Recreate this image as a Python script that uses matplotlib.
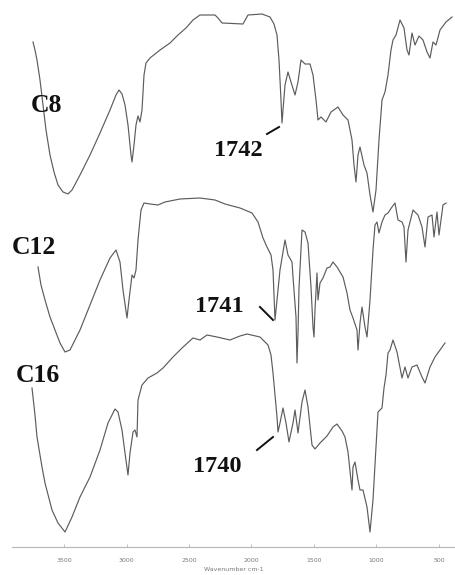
"""FTIR spectra of the C8 / C12 / C16 esters, stacked with offsets."""

import matplotlib
matplotlib.use("Agg")
import matplotlib.pyplot as plt

# ---- data: wavenumber (cm-1) and offset intensity (a.u.) -------------------
c8_wn = [3748, 3732, 3716, 3692, 3668, 3644, 3612, 3580, 3548, 3508,
         3468, 3436, 3372, 3292, 3212, 3132, 3084, 3060, 3036, 3012,
         2988, 2964, 2956, 2940, 2924, 2908, 2892, 2876, 2860, 2844,
         2812, 2732, 2652, 2588, 2524, 2468, 2412, 2292, 2268, 2236,
         2068, 2028, 1916, 1852, 1820, 1796, 1780, 1772, 1764, 1756,
         1748, 1732, 1708, 1684, 1652, 1628, 1604, 1572, 1532, 1508,
         1484, 1468, 1444, 1404, 1364, 1308, 1268, 1228, 1196, 1180,
         1164, 1148, 1132, 1100, 1076, 1052, 1028, 1004, 980, 956,
         932, 908, 884, 868, 844, 812, 780, 756, 740, 716,
         692, 660, 628, 596, 572, 548, 524, 492, 444, 396]
c8_int = [505, 497, 487, 467, 442, 417, 392, 375, 362, 355,
          353, 357, 372, 392, 414, 437, 452, 457, 453, 442,
          422, 392, 385, 402, 422, 431, 425, 437, 472, 484,
          489, 497, 504, 512, 519, 527, 532, 532, 529, 524,
          523, 532, 533, 530, 523, 512, 487, 467, 447, 424,
          437, 462, 475, 465, 452, 465, 487, 483, 483, 472,
          447, 427, 430, 425, 435, 440, 432, 427, 407, 382,
          365, 392, 400, 382, 374, 352, 335, 357, 407, 447,
          455, 472, 497, 507, 512, 527, 519, 497, 492, 514,
          502, 511, 507, 495, 489, 505, 502, 517, 525, 530]

c12_wn = [3708, 3684, 3652, 3612, 3572, 3532, 3492, 3452, 3372, 3292,
          3212, 3132, 3084, 3052, 3028, 2996, 2980, 2956, 2940, 2924,
          2908, 2884, 2860, 2812, 2748, 2692, 2572, 2412, 2292, 2212,
          2092, 1996, 1948, 1908, 1876, 1844, 1828, 1812, 1788, 1772,
          1732, 1708, 1676, 1668, 1644, 1636, 1628, 1620, 1596, 1572,
          1548, 1524, 1508, 1500, 1492, 1476, 1468, 1452, 1428, 1396,
          1372, 1348, 1316, 1292, 1268, 1236, 1212, 1188, 1156, 1148,
          1132, 1116, 1092, 1076, 1052, 1028, 1012, 996, 980, 956,
          932, 908, 876, 852, 828, 796, 780, 764, 748, 708,
          668, 636, 612, 588, 556, 540, 516, 500, 468, 444]
c12_int = [280, 262, 247, 230, 217, 204, 195, 197, 217, 242,
           267, 289, 297, 285, 257, 229, 247, 272, 269, 277,
           307, 337, 344, 343, 342, 345, 348, 349, 347, 343,
           339, 334, 325, 309, 300, 292, 277, 227, 257, 277,
           307, 292, 285, 270, 230, 184, 214, 259, 317, 315,
           304, 260, 220, 210, 237, 274, 247, 264, 269, 279,
           280, 285, 280, 275, 270, 254, 237, 229, 217, 197,
           224, 240, 220, 210, 247, 297, 322, 325, 314, 325,
           332, 334, 340, 344, 327, 325, 320, 285, 317, 337,
           332, 320, 300, 330, 332, 310, 335, 312, 342, 344]

c16_wn = [3756, 3732, 3716, 3692, 3676, 3652, 3596, 3548, 3492, 3436,
          3372, 3292, 3212, 3148, 3092, 3068, 3036, 3012, 2988, 2972,
          2948, 2932, 2916, 2908, 2876, 2828, 2756, 2708, 2628, 2556,
          2468, 2412, 2356, 2276, 2172, 2092, 2036, 1932, 1868, 1844,
          1828, 1812, 1796, 1788, 1772, 1748, 1724, 1700, 1668, 1652,
          1636, 1628, 1596, 1572, 1548, 1516, 1492, 1452, 1396, 1348,
          1316, 1276, 1252, 1228, 1196, 1188, 1172, 1148, 1132, 1108,
          1076, 1052, 1028, 1004, 988, 956, 940, 924, 908, 892,
          868, 836, 796, 772, 748, 716, 676, 636, 612, 572,
          532, 492, 452]
c16_int = [159, 132, 110, 92, 80, 64, 37, 24, 15, 30,
           50, 70, 97, 124, 138, 135, 117, 94, 72, 94,
           115, 117, 110, 147, 162, 169, 174, 179, 190, 199,
           209, 207, 212, 210, 207, 211, 213, 210, 202, 192,
           174, 152, 130, 115, 124, 139, 124, 105, 124, 137,
           122, 114, 145, 157, 140, 102, 98, 104, 111, 120,
           123, 116, 110, 95, 57, 80, 85, 67, 57, 57,
           40, 15, 47, 100, 135, 139, 159, 172, 194, 197,
           207, 195, 169, 180, 169, 180, 182, 170, 164, 180,
           190, 197, 204]

series = [("C8", c8_wn, c8_int), ("C12", c12_wn, c12_int), ("C16", c16_wn, c16_int)]
tick_wn = [3500, 3000, 2500, 2000, 1500, 1000, 500]

LINE = "#5c5c5c"
AXIS = "#b5b5b5"
SERIF = ["Liberation Serif", "DejaVu Serif"]

fig = plt.figure(figsize=(4.55, 5.75), dpi=100)
ax = fig.add_axes([12 / 455, 28 / 575, 443 / 455, 547 / 575])
ax.set_xlim(3916, 372)
ax.set_ylim(0, 547)

for name, wn, inten in series:
    ax.plot(wn, inten, color=LINE, lw=0.85, solid_joinstyle="round")

# curve names
for txt, x, y in [("C8", 3636, 442), ("C12", 3740, 300), ("C16", 3708, 171)]:
    ax.text(x, y, txt, ha="center", va="center", fontsize=18.5,
            fontweight="bold", family=SERIF, color="#111")

# carbonyl band callouts
callouts = [("1742", 2108, 396, (1876, 413), (1780, 420)),
            ("1741", 2260, 241, (1932, 240), (1828, 227)),
            ("1740", 2276, 80, (1956, 97), (1828, 110))]
for txt, x, y, p0, p1 in callouts:
    ax.text(x, y, txt, ha="center", va="center", fontsize=17.5,
            fontweight="bold", family=SERIF, color="#111")
    ax.plot([p0[0], p1[0]], [p0[1], p1[1]], color="#111", lw=1.4)

for s in ("left", "top", "right"):
    ax.spines[s].set_visible(False)
ax.spines["bottom"].set_color(AXIS)
ax.spines["bottom"].set_linewidth(0.8)
ax.set_yticks([])
ax.set_xticks(tick_wn)
ax.set_xticklabels([str(t) for t in tick_wn])
ax.tick_params(axis="x", direction="in", length=2, width=0.6, color=AXIS,
               labelsize=4.5, labelcolor="#7a7a7a", pad=8)
ax.set_xlabel("Wavenumber cm-1", fontsize=4.5, color="#7a7a7a", labelpad=3)

fig.savefig("out.png", dpi=100, facecolor="white")
